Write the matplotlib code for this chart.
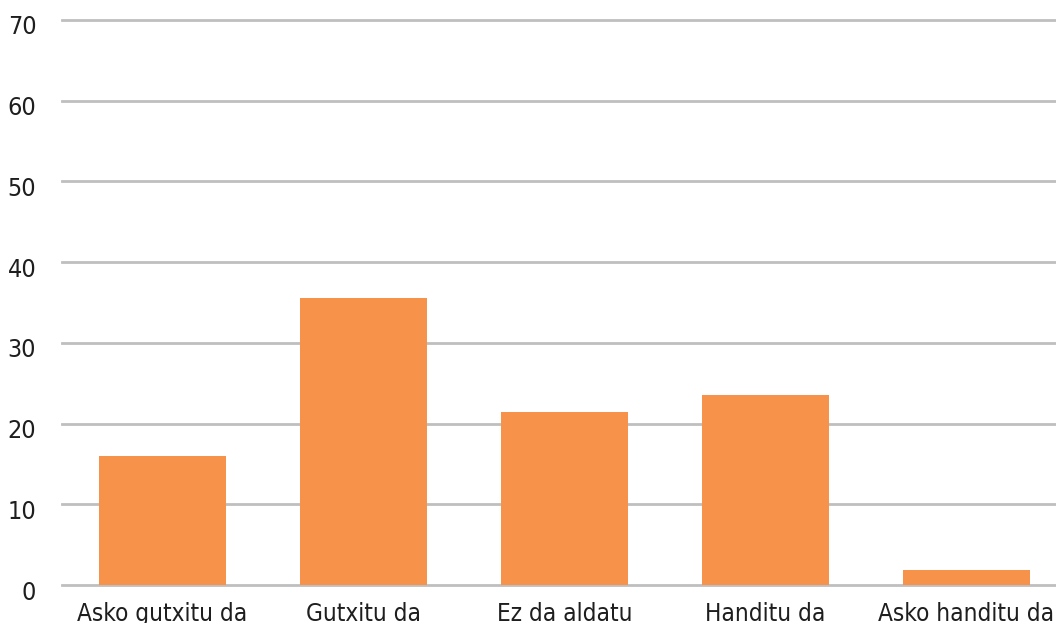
import numpy as np
import matplotlib.pyplot as plt
import matplotlib.transforms as mtransforms

# data
categories = ["Asko gutxitu da", "Gutxitu da", "Ez da aldatu", "Handitu da", "Asko handitu da"]
values = [16.0, 35.5, 21.4, 23.5, 1.8]
yticks = [0, 10, 20, 30, 40, 50, 60, 70]

plt.rcParams["font.family"] = ["DejaVu Sans"]
plt.rcParams["font.stretch"] = "condensed"

fig = plt.figure(figsize=(10.56, 6.23), dpi=100)
ax = fig.add_axes([62 / 1056, 1 - 585 / 623, 1 - 62 / 1056, (585 - 20) / 623])

x = np.arange(len(categories))
ax.bar(x, values, width=0.63, color="#F7924A", zorder=3)

ax.set_ylim(0, 70)
ax.set_xlim(-0.5, 4.445)
ax.set_yticks(yticks)
ax.set_xticks(x)
ax.set_xticklabels(categories)

ax.grid(axis="y", color="#BFBFBF", linewidth=2, zorder=0)
for gl in ax.get_ygridlines():
    gl.set_clip_on(False)
ax.set_axisbelow(True)
for s in ax.spines.values():
    s.set_visible(False)

ax.tick_params(axis="both", length=0, labelsize=18, colors="#1e1e1e")
ax.tick_params(axis="y", pad=18.5)
ax.tick_params(axis="x", pad=12.5, labelsize=17.5)

off = mtransforms.ScaledTranslation(0, -5 / 100, fig.dpi_scale_trans)
for lbl in ax.get_yticklabels():
    lbl.set_transform(lbl.get_transform() + off)

fig.savefig("out.png", dpi=100)
